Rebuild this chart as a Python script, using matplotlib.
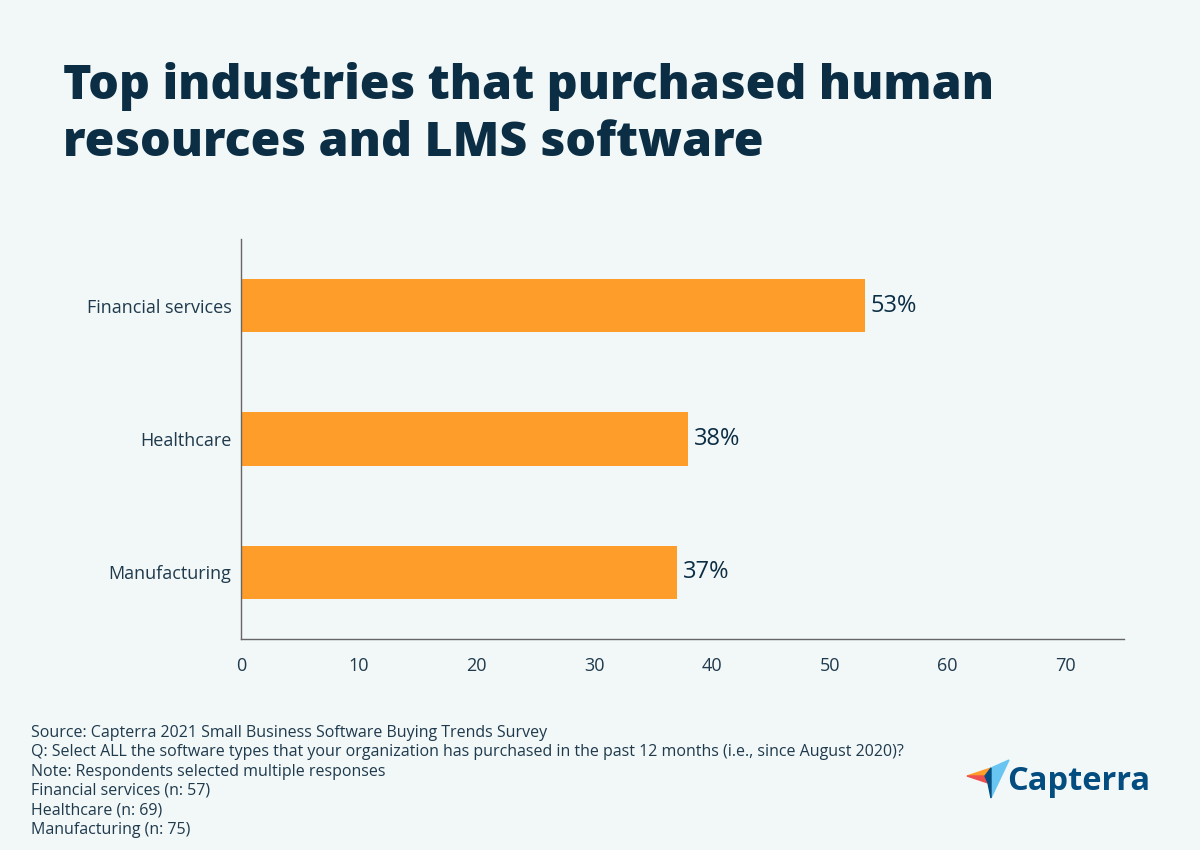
import matplotlib
matplotlib.use("Agg")
import matplotlib.pyplot as plt
from matplotlib.patches import Polygon

categories = ["Financial services", "Healthcare", "Manufacturing"]
values = [53, 38, 37]
xticks = [0, 10, 20, 30, 40, 50, 60, 70]
title = "Top industries that purchased human\nresources and LMS software"
footnotes = [
    "Source: Capterra 2021 Small Business Software Buying Trends Survey",
    "Q: Select ALL the software types that your organization has purchased in the past 12 months (i.e., since August 2020)?",
    "Note: Respondents selected multiple responses",
    "Financial services (n: 57)",
    "Healthcare (n: 69)",
    "Manufacturing (n: 75)",
]

BG = "#f2f7f7"
NAVY = "#0b2e45"
ORANGE = "#ff9d2b"
TEXT = "#1f3a4d"

plt.rcParams['font.family'] = ['Open Sans', 'DejaVu Sans']

fig = plt.figure(figsize=(12, 8.5), dpi=100, facecolor=BG)
ax = fig.add_axes([241/1200, 1-639/850, (1124-241)/1200, 400/850])
ax.set_facecolor(BG)

y = list(range(len(categories)))
ax.barh(y, values, height=0.4, color=ORANGE)
ax.set_ylim(2.5, -0.5)
ax.set_xlim(0, 75)
ax.set_yticks(y)
ax.set_yticklabels(categories, fontsize=13, color=TEXT)
ax.set_xticks(xticks)
ax.set_xticklabels([str(t) for t in xticks], fontsize=13, color=TEXT)
ax.tick_params(axis='y', length=0, pad=7)
ax.tick_params(axis='x', length=0, pad=13)
for s in ["top", "right"]:
    ax.spines[s].set_visible(False)
for s in ["left", "bottom"]:
    ax.spines[s].set_color("#666666")
    ax.spines[s].set_linewidth(1)
for yi, v in zip(y, values):
    ax.text(v + 0.5, yi, f"{v}%", va="center", ha="left", fontsize=17, color=NAVY)

fig.text(63/1200, 1-62/850, title, ha="left", va="top", fontsize=34.75, fontweight="heavy",
         color=NAVY, linespacing=1.24)

for i, line in enumerate(footnotes):
    fig.text(31/1200, 1-(733 + i*19.3)/850, line, ha="left", va="center", fontsize=11.5, color=TEXT)

# Capterra logo
lax = fig.add_axes([965/1200, 1-803/850, 50/1200, 45/850])
lax.set_xlim(0, 50); lax.set_ylim(0, 45); lax.axis("off")
lax.add_patch(Polygon([[2, 27], [26, 35], [20, 27]], closed=True, color="#ff9d2b"))
lax.add_patch(Polygon([[26, 35], [44, 43], [26, 5]], closed=True, color="#68c5f2"))
lax.add_patch(Polygon([[2, 27], [20, 27], [23, 20]], closed=True, color="#ef4f4f"))
lax.add_patch(Polygon([[20, 27], [26, 35], [26, 5], [23, 20]], closed=True, color="#044d80"))
fig.text(1007/1200, 1-782/850, "Capterra", ha="left", va="center", fontsize=23.5, fontweight="bold", color="#044d80")

fig.savefig("out.png", dpi=100, facecolor=BG)
